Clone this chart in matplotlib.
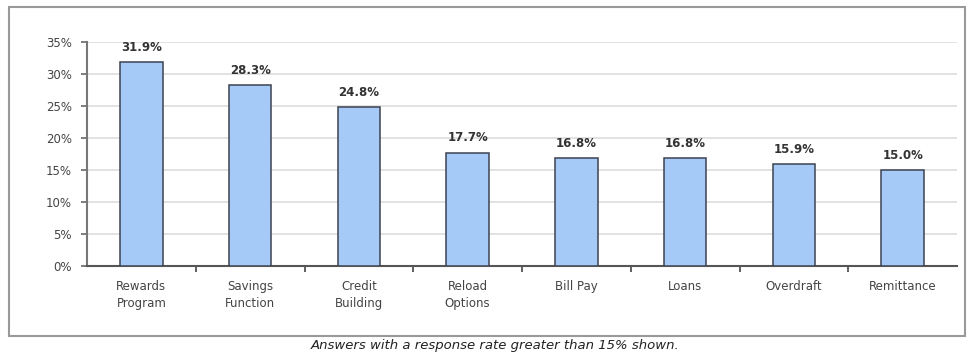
import matplotlib.pyplot as plt
from matplotlib.patches import Rectangle

# data
categories = ['Rewards\nProgram', 'Savings\nFunction', 'Credit\nBuilding', 'Reload\nOptions',
              'Bill Pay', 'Loans', 'Overdraft', 'Remittance']
values = [31.9, 28.3, 24.8, 17.7, 16.8, 16.8, 15.9, 15.0]
yticks = [0, 5, 10, 15, 20, 25, 30, 35]

plt.rcParams['font.family'] = ['DejaVu Sans']

fig = plt.figure(figsize=(9.72, 3.55), dpi=100)
ax = fig.add_axes([87 / 972, 1 - 266 / 355, (957 - 87) / 972, (266 - 42) / 355])

x = range(len(categories))
ax.bar(x, values, width=0.39, color='#a6caf7', edgecolor='#3c4250', linewidth=1.1, zorder=3)

for xi, v in zip(x, values):
    ax.annotate(f'{v:.1f}%', (xi, v), xytext=(0, 6), textcoords='offset points',
                ha='center', va='bottom', fontsize=8.5, fontweight='bold', color='#333333')

# axes and grid
ax.set_xlim(-0.5, len(categories) - 0.5)
ax.set_ylim(0, 35)
ax.set_yticks(yticks)
ax.set_yticklabels([f'{t}%' for t in yticks], fontsize=8.5, color='#444444')
ax.set_xticks(list(x))
ax.set_xticklabels(categories, fontsize=8.5, color='#444444', linespacing=1.45)
ax.tick_params(axis='x', length=0, pad=10)
ax.set_xticks([i + 0.5 for i in range(len(categories) - 1)], minor=True)
ax.tick_params(axis='x', which='minor', length=4, width=1.2, color='#444444', direction='out')
ax.tick_params(axis='y', length=4, width=1.2, color='#666666', direction='out', pad=7)
ax.yaxis.grid(True, color='#dddddd', linewidth=1.2, zorder=0)
for s in ['top', 'right']:
    ax.spines[s].set_visible(False)
ax.spines['left'].set_color('#777777')
ax.spines['left'].set_linewidth(1.5)
ax.spines['bottom'].set_color('#555555')
ax.spines['bottom'].set_linewidth(1.5)

# outer frame
fig.patches.append(Rectangle((9 / 972, 1 - 336 / 355), (965 - 9) / 972, (336 - 7) / 355,
                             transform=fig.transFigure, fill=False, edgecolor='#999999',
                             linewidth=1.5))

fig.text(495 / 972, 1 - 346 / 355, 'Answers with a response rate greater than 15% shown.',
         ha='center', va='center', fontsize=9.5, style='italic', color='#222222')

plt.savefig('out.png', dpi=100)
